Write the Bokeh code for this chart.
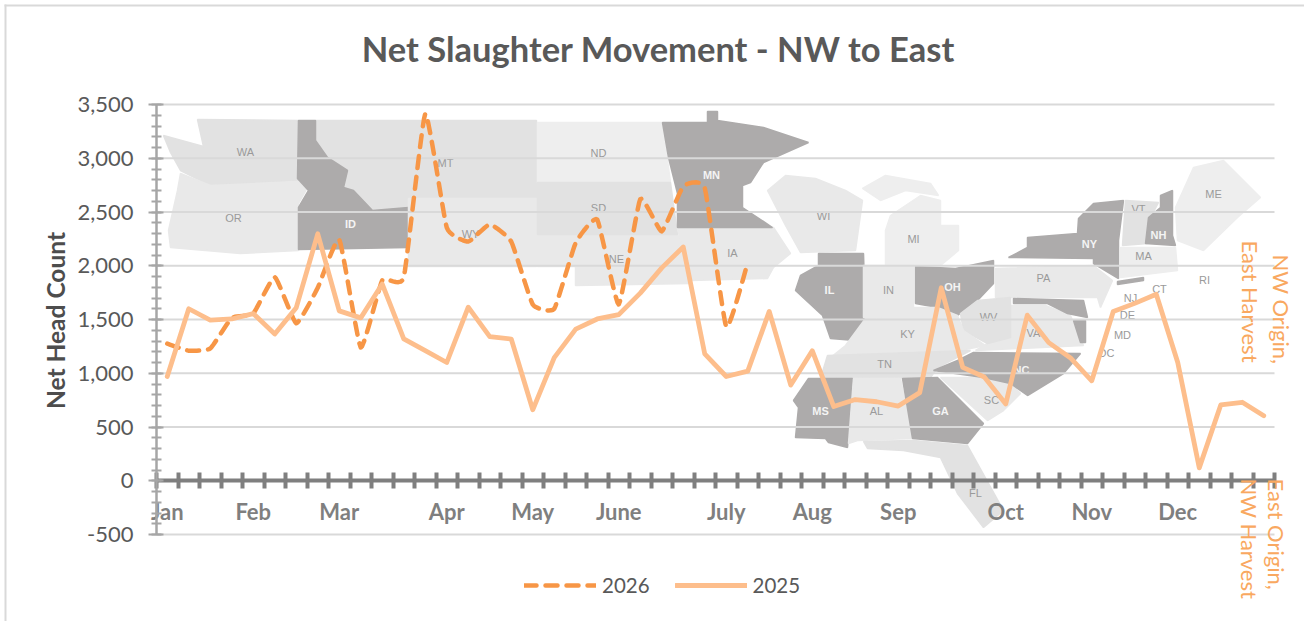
from bokeh.plotting import figure
from bokeh.embed import file_html
from bokeh.resources import INLINE
from bokeh.models import (Range1d, LinearAxis, FixedTicker, NumeralTickFormatter, Label,
                          Legend, LegendItem, BoxAnnotation)

TITLE = "Net Slaughter Movement - NW to East"
Y_TITLE = "Net Head Count"
MONTHS = ["Jan", "Feb", "Mar", "Apr", "May", "June", "July", "Aug", "Sep", "Oct", "Nov", "Dec"]
MONTH_WEEK = [0, 4, 8, 13, 17, 21, 26, 30, 34, 39, 43, 47]
Y_TICKS = [-500, 0, 500, 1000, 1500, 2000, 2500, 3000, 3500]

SERIES_2025 = [970, 1600, 1495, 1505, 1555, 1365, 1610, 2297, 1580, 1515, 1830, 1320, 1210, 1100,
               1615, 1340, 1318, 660, 1145, 1410, 1505, 1545, 1745, 1980, 2175, 1180, 970, 1020,
               1575, 890, 1210, 690, 755, 735, 695, 820, 1795, 1055, 965, 715, 1540, 1285, 1145,
               930, 1575, 1650, 1735, 1100, 120, 705, 730, 605]
SERIES_2026 = [1275, 1210, 1230, 1515, 1555, 1895, 1465, 1795, 2245, 1240, 1865, 1890, 3415, 2355,
               2225, 2385, 2225, 1640, 1600, 2215, 2430, 1640, 2620, 2320, 2740, 2725, 1430, 2030]

DARK, MID, LIGHT, PALE = "#adabab", "#e2e2e2", "#e9e9e9", "#eeeeee"
# decorative backdrop map, in page pixels (not data)
STATES = [
    (MID, [(163,135),(203,146),(197,119),(298,120),(298,180),(210,185),(180,170),(170,152)]),
    (LIGHT, [(180,173),(210,185),(298,181),(307,187),(298,203),(298,250),(240,253),(170,247),(168,230),(177,190)]),
    (MID, [(315,120),(536,120),(536,198),(408,198),(408,207),(372,210),(353,190),(343,187),(347,170),(327,157),(315,140)]),
    (DARK, [(298,120),(315,120),(315,140),(327,157),(347,170),(343,187),(353,190),(372,210),(408,207),(408,247),(298,249),(298,207),(308,190),(297,178)]),
    (LIGHT, [(408,198),(536,198),(536,266),(408,266),(408,247)]),
    (PALE, [(537,122),(662,122),(670,182),(537,182)]),
    (LIGHT, [(537,234),(677,234),(692,262),(690,283),(575,285),(575,266),(537,266)]),
    (MID, [(537,182),(670,182),(677,234),(537,234)]),
    (LIGHT, [(677,228),(773,227),(790,253),(773,267),(767,278),(690,280)]),
    (DARK, [(662,122),(707,122),(707,111),(717,111),(717,120),(763,127),(808,142),(763,162),(750,182),(742,185),(742,207),(772,227),(677,227),(677,193),(668,157)]),
    (LIGHT, [(767,190),(785,175),(815,178),(845,190),(862,200),(855,250),(800,252),(785,225)]),
    (DARK, [(818,253),(863,253),(865,320),(855,340),(830,338),(822,315),(795,290),(800,275),(818,265)]),
    (PALE, [(885,230),(890,215),(920,195),(940,200),(940,225),(958,225),(958,250),(940,265),(885,265)]),
    (PALE, [(862,188),(885,175),(930,183),(938,195),(905,190),(880,200)]),
    (LIGHT, [(863,265),(913,265),(913,307),(893,317),(863,317)]),
    (DARK, [(915,266),(955,268),(993,260),(993,283),(977,300),(957,315),(937,307),(915,303)]),
    (DARK, [(1008,257),(1027,247),(1027,237),(1077,233),(1078,218),(1093,203),(1123,200),(1118,240),(1118,278),(1093,263),(1093,258)]),
    (LIGHT, [(995,268),(1093,265),(1112,280),(1100,307),(1097,297),(995,297)]),
    (MID, [(1125,200),(1158,202),(1147,223),(1147,243),(1122,245)]),
    (PALE, [(1175,207),(1193,167),(1223,160),(1260,197),(1237,217),(1203,250),(1177,240)]),
    (DARK, [(1172,190),(1172,235),(1175,245),(1145,243),(1148,217),(1160,207),(1160,195)]),
    (PALE, [(1120,247),(1175,247),(1177,270),(1120,277)]),
    (DARK, [(1117,281),(1143,277),(1143,280),(1117,284)]),
    (LIGHT, [(1010,305),(1045,305),(1070,315),(1083,345),(975,350),(987,343),(1010,337)]),
    (MID, [(960,313),(977,300),(1010,297),(1010,337),(987,343),(963,330)]),
    (DARK, [(1013,298),(1083,300),(1087,317),(1067,313),(1047,303),(1013,303)]),
    (DARK, [(1073,320),(1085,320),(1085,342),(1080,342)]),
    (LIGHT, [(865,318),(893,317),(913,307),(937,307),(957,315),(963,330),(985,345),(950,352),(830,357),(845,345)]),
    (MID, [(827,355),(970,350),(937,367),(930,377),(820,378)]),
    (LIGHT, [(940,377),(983,377),(1010,383),(1020,393),(1003,410),(987,420)]),
    (DARK, [(973,352),(1080,353),(1063,373),(1027,395),(1010,383),(983,377),(933,370),(957,360)]),
    (DARK, [(808,378),(852,378),(847,447),(828,442),(825,438),(795,437),(798,407),(793,400)]),
    (LIGHT, [(853,378),(900,378),(912,438),(857,440),(848,443)]),
    (MID, [(863,441),(913,440),(967,445),(1003,510),(983,527),(957,493),(940,457),(903,450),(867,448)]),
    (DARK, [(902,378),(937,377),(983,423),(967,443),(912,438)]),
]
STATE_LABELS = [
    ("WA",245,151,0),("OR",233,217,0),("ID",350,223,1),("MT",445,162,0),("WY",470,233,0),("ND",598,152,0),
    ("SD",598,207,0),("NE",616,258,0),("MN",711,174,1),("IA",732,252,0),("WI",823,215,0),("IL",829,289,1),
    ("IN",888,289,0),("MI",913,238,0),("OH",952,286,1),("KY",907,333,0),("TN",884,363,0),("AL",876,410,0),
    ("MS",820,410,1),("GA",940,410,1),("FL",975,492,0),("SC",991,399,0),("NC",1021,369,1),("VA",1033,332,0),
    ("WV",988,316,0),("PA",1043,277,0),("NY",1089,243,1),("VT",1138,208,0),("NH",1158,234,1),("MA",1143,255,0),
    ("ME",1213,193,0),("RI",1204,279,0),("CT",1159,288,0),("NJ",1130,297,0),("DE",1127,314,0),("MD",1122,334,0),
    ("DC",1106,352,0),
]

FONT = "Lato"
W, H = 1304, 621
L, R, T, B = 156, 1274, 104, 534   # plot area, page pixels
KX = 52 / (R - L)
KY = 4000 / (B - T)


def smooth(xs, ys, s=0.2, n=10):
    """Rendering of Excel's 'smoothed line': Hermite curve through the read values."""
    ox, oy = [], []
    m = len(xs)
    for i in range(m - 1):
        p0, p1, p2, p3 = max(i - 1, 0), i, i + 1, min(i + 2, m - 1)
        for k in range(n):
            t = k / n
            h00 = 2*t**3 - 3*t**2 + 1
            h10 = t**3 - 2*t**2 + t
            h01 = -2*t**3 + 3*t**2
            h11 = t**3 - t**2
            def f(a):
                return h00*a[p1] + h10*s*(a[p2]-a[p0]) + h01*a[p2] + h11*s*(a[p3]-a[p1])
            ox.append(f(xs))
            oy.append(f(ys))
    ox.append(xs[-1])
    oy.append(ys[-1])
    return ox, oy


p = figure(width=W, height=H, output_backend="svg", toolbar_location=None,
           x_range=Range1d(-L * KX, (W - L) * KX),
           y_range=Range1d(-500 - (H - B) * KY, 3500 + T * KY),
           x_axis_location=None, y_axis_location=None,
           min_border=0, min_border_left=0, min_border_right=0, min_border_top=0, min_border_bottom=0)
p.outline_line_color = None
p.background_fill_color = "white"
p.border_fill_color = "white"
p.grid.visible = False
p.extra_x_ranges["px"] = Range1d(0, W)
p.extra_y_ranges["px"] = Range1d(H, 0)

# backdrop map
for color, pts in STATES:
    p.patch([q[0] for q in pts], [q[1] for q in pts], fill_color=color, line_color=color, line_width=1.5,
            x_range_name="px", y_range_name="px", level="image")
p.text([s[1] for s in STATE_LABELS if not s[3]], [s[2] for s in STATE_LABELS if not s[3]],
       text=[s[0] for s in STATE_LABELS if not s[3]], text_align="center", text_baseline="middle",
       text_font_size="11px", text_color="#9a9a9a", x_range_name="px", y_range_name="px", level="image")
p.text([s[1] for s in STATE_LABELS if s[3]], [s[2] for s in STATE_LABELS if s[3]],
       text=[s[0] for s in STATE_LABELS if s[3]], text_align="center", text_baseline="middle",
       text_font_size="11px", text_font_style="bold", text_color="#f4f4f4",
       x_range_name="px", y_range_name="px", level="image")

# horizontal gridlines over the plot area only
p.segment([0] * len(Y_TICKS), Y_TICKS, [52] * len(Y_TICKS), Y_TICKS, line_color="#d9d9d9", line_width=2, level="underlay")

# y axis
yax = LinearAxis(ticker=FixedTicker(ticks=Y_TICKS, minor_ticks=list(range(-500, 3501, 100))),
                 formatter=NumeralTickFormatter(format="0,0"), fixed_location=0, bounds=(-500, 3500))
yax.axis_line_color = "#a6a6a6"
yax.axis_line_width = 2.5
yax.major_tick_line_color = "#a6a6a6"
yax.major_tick_line_width = 2
yax.major_tick_in = 7
yax.major_tick_out = 8
yax.minor_tick_line_color = "#a6a6a6"
yax.minor_tick_line_width = 2
yax.minor_tick_in = 5
yax.minor_tick_out = 5
yax.major_label_text_font = FONT
yax.major_label_text_font_size = "22px"
yax.major_label_text_color = "#595959"
yax.major_label_standoff = 15
p.add_layout(yax, "left")

# x axis crossing at zero, with week ticks
xax = LinearAxis(ticker=FixedTicker(ticks=list(range(0, 53))), fixed_location=0, bounds=(0, 52))
xax.axis_line_color = "#7f7f7f"
xax.axis_line_width = 4
xax.major_tick_line_color = "#7f7f7f"
xax.major_tick_line_width = 4
xax.major_tick_in = 8
xax.major_tick_out = 8
xax.minor_tick_line_color = None
xax.major_label_text_alpha = 0
xax.major_label_text_font_size = "1px"
p.add_layout(xax, "below")

centres = [w + 0.5 for w in MONTH_WEEK]
mon = LinearAxis(ticker=FixedTicker(ticks=centres), fixed_location=0,
                 major_label_overrides=dict(zip(centres, MONTHS)))
mon.axis_line_color = None
mon.major_tick_line_color = None
mon.minor_tick_line_color = None
mon.major_tick_in = 0
mon.major_tick_out = 0
mon.major_label_standoff = 17
mon.major_label_text_font = FONT
mon.major_label_text_font_style = "bold"
mon.major_label_text_font_size = "22px"
mon.major_label_text_color = "#7f7f7f"
p.add_layout(mon, "below")

# series
xs25 = [i + 0.5 for i in range(len(SERIES_2025))]
xs26 = [i + 0.5 for i in range(len(SERIES_2026))]
sx, sy = smooth(xs26, SERIES_2026)
r26 = p.line(sx, sy, line_color="#f79646", line_width=4.5, line_dash="12 9", line_cap="round", line_join="round")
r25 = p.line(xs25, SERIES_2025, line_color="#fdbe8c", line_width=4.8, line_cap="round", line_join="round")

legend = Legend(items=[LegendItem(label="2026", renderers=[r26]), LegendItem(label="2025", renderers=[r25])],
                orientation="horizontal", location=(524, H - 597), glyph_width=72, glyph_height=22,
                label_standoff=6, spacing=25, padding=0, margin=0, border_line_color=None,
                background_fill_alpha=0, label_text_font=FONT, label_text_font_size="20.5px",
                label_text_color="#595959", label_height=22)
p.add_layout(legend, "center")


def label(text, x, y, **kw):
    p.add_layout(Label(text=text, x=x, y=y, x_range_name="px", y_range_name="px", text_font=FONT, **kw))


label(TITLE, 658, 48, text_align="center", text_baseline="middle", text_font_size="34.5px",
      text_font_style="bold", text_color="#595959")
label(Y_TITLE, 55, 320, angle=1.5708, text_align="center", text_baseline="middle", text_font_size="24.5px",
      text_font_style="bold", text_color="#4d4d4d")
ROT = -1.5708
for txt, x, y in [("NW Origin,", 1281, 254), ("East Harvest", 1250, 240),
                  ("East Origin,", 1276, 478), ("NW Harvest", 1249, 478)]:
    label(txt, x, y, angle=ROT, text_align="left", text_baseline="middle", text_font_size="22px",
          text_color="#f9a860")

# chart-area border (top and left only are visible in the reference)
p.add_layout(BoxAnnotation(left=4, right=W, top=4, bottom=6, x_range_name="px", y_range_name="px",
                           fill_color="#d9d9d9", fill_alpha=1, line_color=None, level="image"))
p.add_layout(BoxAnnotation(left=4, right=6, top=4, bottom=H, x_range_name="px", y_range_name="px",
                           fill_color="#d9d9d9", fill_alpha=1, line_color=None, level="image"))

open("out.html", "w").write(file_html(p, INLINE))
